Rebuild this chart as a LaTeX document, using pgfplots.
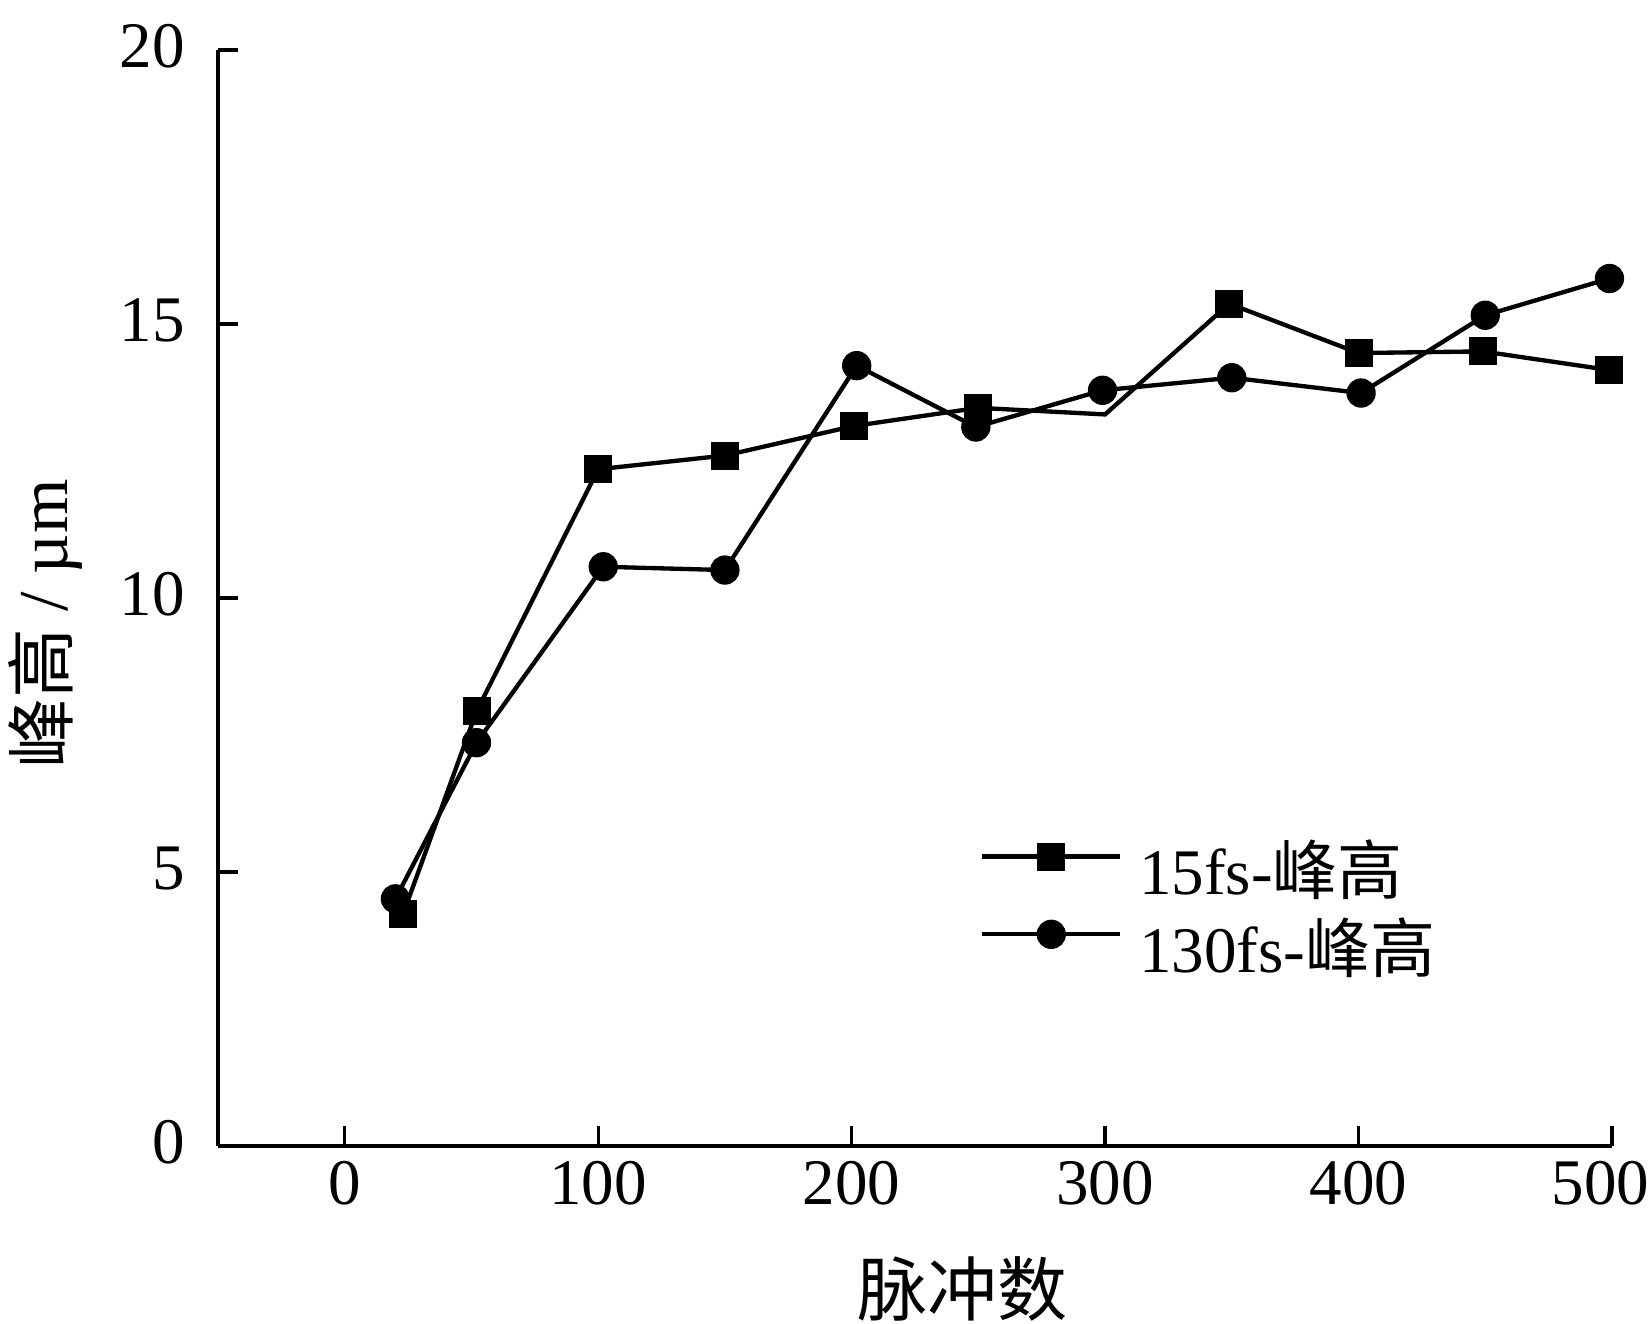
\documentclass[border=0pt]{standalone}
\usepackage{fontspec}
\setmainfont{Liberation Serif}
\newfontfamily\cjk{Noto Sans CJK SC}
\usepackage{pgfplots}
\pgfplotsset{compat=1.18}
\begin{document}
\begin{tikzpicture}
\begin{axis}[
  scale only axis, width=418.2pt, height=328.8pt,
  xmin=-50, xmax=500, ymin=0, ymax=20,
  xtick={0,100,...,500}, ytick={0,5,...,20},
  xticklabels={0,100,200,300,400,{\hspace*{-7pt}500}},
  axis lines=left, axis line style={-, line width=1pt},
  tick align=inside, major tick length=6pt,
  tick style={line width=1pt, black},
  minor tick num=0,
  clip=false,
  ticklabel style={font=\fontsize{19.5}{23}\selectfont},
  /pgf/number format/assume math mode=true,
  xticklabel style={yshift=-1pt},
  yticklabel style={xshift=-6.5pt, yshift=1pt},
  xlabel={\cjk 脉冲数}, ylabel={{\cjk 峰高} / µm},
  every axis x label/.style={at={(rel axis cs:0.5344,-0.1305)}, anchor=center, font=\fontsize{21}{25}\selectfont},
  every axis y label/.style={at={(rel axis cs:-0.1241,0.4763)}, rotate=90, anchor=center, font=\fontsize{21}{25}\selectfont},
  legend style={at={(rel axis cs:0.5467,0.2777)}, anchor=north west, draw=none, fill=none,
    inner sep=0pt, outer sep=0pt, row sep=2.3pt,
    font=\fontsize{19.5}{23}\selectfont,
    nodes={inner sep=0pt, text height=16pt, text depth=5pt},
    /tikz/every odd column/.append style={column sep=5pt}},
  legend cell align=left,
  legend image code/.code={\draw[#1, mark repeat=2, mark phase=2] plot coordinates {(0pt,6pt) (20.7pt,6pt) (41.4pt,6pt)};},
]
\addplot[black, line width=1.3pt, forget plot] coordinates {
(23,4.23) (52,7.93) (100,12.35) (150,12.6) (201,13.14) (250,13.47) (300,13.35) (349,15.37) (400,14.47) (449,14.5) (499,14.16)};
\addplot[black, only marks, mark=square*, mark size=4pt, mark options={line width=0.4pt}, forget plot] coordinates {
(23,4.23) (52,7.93) (100,12.35) (150,12.6) (201,13.14) (250,13.47) (349,15.37) (400,14.47) (449,14.5) (499,14.16)};
\addplot[black, line width=1.3pt, mark=*, mark size=4.2pt, mark options={line width=0.4pt}, forget plot] coordinates {
(20,4.51) (52,7.36) (102,10.57) (150,10.51) (202,14.24) (249,13.12) (299,13.79) (350,14.02) (401,13.74) (450,15.16) (499,15.83)};
\addlegendimage{black, line width=1.3pt, mark=square*, mark size=4pt, mark options={line width=0.4pt}}
\addlegendentry{15fs-{\cjk 峰高}}
\addlegendimage{black, line width=1.3pt, mark=*, mark size=4.2pt, mark options={line width=0.4pt}}
\addlegendentry{130fs-{\cjk 峰高}}
\end{axis}
\pgfresetboundingbox
\path[use as bounding box] (-65.4pt,-53.1pt) rectangle (430.2pt,343.8pt);
\end{tikzpicture}
\end{document}
